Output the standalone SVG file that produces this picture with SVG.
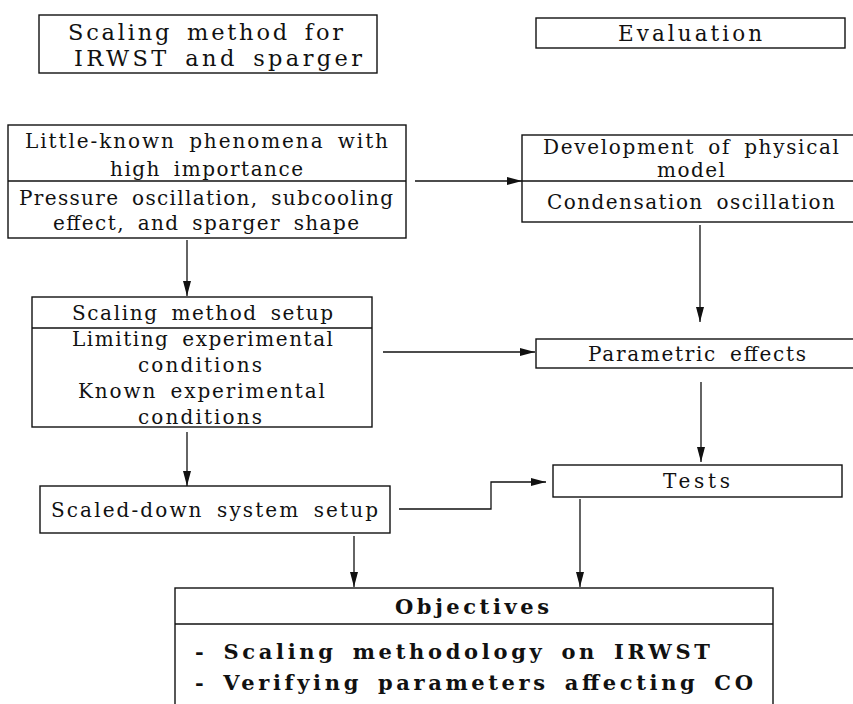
<svg xmlns="http://www.w3.org/2000/svg" width="853" height="704" viewBox="0 0 853 704">
<style>
.box{fill:none;stroke:#111;stroke-width:1.4}
.div{stroke:#111;stroke-width:1.3}
.t{font-family:"DejaVu Serif","Liberation Serif",serif;font-size:20px;fill:#111;word-spacing:5px}
.big{font-size:22.5px}
.b{font-weight:bold;font-size:21px}
.c{fill:none;stroke:#111;stroke-width:1.3}
</style>
<defs>
<marker id="ah" markerUnits="userSpaceOnUse" markerWidth="16" markerHeight="10" refX="15" refY="4" orient="auto">
<path d="M0,0 L15,4 L0,8 z" fill="#111"/>
</marker>
</defs>
<rect width="853" height="704" fill="#fff"/>

<g id="n-scaling-method">
<rect class="box" x="39" y="15" width="338" height="58"/>
<text class="t big" x="68" y="40" textLength="275" lengthAdjust="spacing">Scaling method for</text>
<text class="t big" x="74" y="66" textLength="288" lengthAdjust="spacing">IRWST and sparger</text>
</g>

<g id="n-evaluation">
<rect class="box" x="536" y="18" width="309" height="30"/>
<text class="t" style="font-size:21.5px" x="618" y="41" textLength="144" lengthAdjust="spacing">Evaluation</text>
</g>

<g id="n-little-known">
<rect class="box" x="8" y="125" width="398" height="113"/>
<line class="div" x1="8" y1="181" x2="406" y2="181"/>
<text class="t" x="25" y="148" textLength="363" lengthAdjust="spacing">Little-known phenomena with</text>
<text class="t" x="110" y="176" textLength="193" lengthAdjust="spacing">high importance</text>
<text class="t" x="19" y="205" textLength="374" lengthAdjust="spacing">Pressure oscillation, subcooling</text>
<text class="t" x="53" y="230" textLength="306" lengthAdjust="spacing">effect, and sparger shape</text>
</g>

<g id="n-development">
<rect class="box" x="522" y="135" width="340" height="87"/>
<line class="div" x1="522" y1="181" x2="853" y2="181"/>
<text class="t" x="543" y="154" textLength="296" lengthAdjust="spacing">Development of physical</text>
<text class="t" x="657" y="177" textLength="68" lengthAdjust="spacing">model</text>
<text class="t" x="547" y="209" textLength="288" lengthAdjust="spacing">Condensation oscillation</text>
</g>

<g id="n-scaling-setup">
<rect class="box" x="32" y="297" width="340" height="130"/>
<line class="div" x1="32" y1="328" x2="372" y2="328"/>
<text class="t" x="72" y="320" textLength="261" lengthAdjust="spacing">Scaling method setup</text>
<text class="t" x="72" y="346" textLength="261" lengthAdjust="spacing">Limiting experimental</text>
<text class="t" x="138" y="372" textLength="124" lengthAdjust="spacing">conditions</text>
<text class="t" x="78" y="398" textLength="247" lengthAdjust="spacing">Known experimental</text>
<text class="t" x="138" y="424" textLength="124" lengthAdjust="spacing">conditions</text>
</g>

<g id="n-parametric">
<rect class="box" x="536" y="339" width="330" height="29"/>
<text class="t" x="588" y="361" textLength="218" lengthAdjust="spacing">Parametric effects</text>
</g>

<g id="n-scaled-down">
<rect class="box" x="40" y="486" width="350" height="47"/>
<text class="t" x="51" y="517" textLength="327" lengthAdjust="spacing">Scaled-down system setup</text>
</g>

<g id="n-tests">
<rect class="box" x="553" y="465" width="289" height="32"/>
<text class="t" x="663" y="488" textLength="67" lengthAdjust="spacing">Tests</text>
</g>

<g id="n-objectives">
<rect class="box" x="175" y="588" width="598" height="130"/>
<line class="div" x1="175" y1="624" x2="773" y2="624"/>
<text class="t b" x="395" y="614" textLength="154" lengthAdjust="spacing">Objectives</text>
<text class="t b" x="195" y="659" textLength="515" lengthAdjust="spacing">- Scaling methodology on IRWST</text>
<text class="t b" x="195" y="690" textLength="558" lengthAdjust="spacing">- Verifying parameters affecting CO</text>
</g>

<g id="connectors">
<line class="c" x1="415" y1="181" x2="522" y2="181" marker-end="url(#ah)"/>
<line class="c" x1="187" y1="240" x2="187" y2="296" marker-end="url(#ah)"/>
<line class="c" x1="700" y1="225" x2="700" y2="322" marker-end="url(#ah)"/>
<line class="c" x1="383" y1="352" x2="535" y2="352" marker-end="url(#ah)"/>
<line class="c" x1="701" y1="382" x2="701" y2="462" marker-end="url(#ah)"/>
<line class="c" x1="187" y1="432" x2="187" y2="486" marker-end="url(#ah)"/>
<polyline class="c" points="399,509 491,509 491,482 546,482" marker-end="url(#ah)"/>
<line class="c" x1="354" y1="536" x2="354" y2="587" marker-end="url(#ah)"/>
<line class="c" x1="580" y1="499" x2="580" y2="587" marker-end="url(#ah)"/>
</g>
</svg>
